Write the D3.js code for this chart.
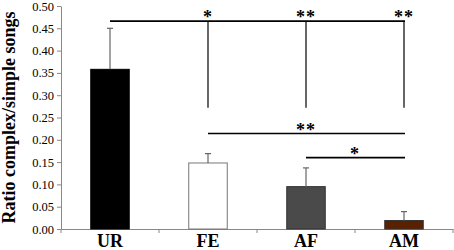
<!DOCTYPE html>
<html><head><meta charset="utf-8">
<script src="https://cdn.jsdelivr.net/npm/d3@7/dist/d3.min.js"></script>
<style>body{margin:0;background:#fff}svg{display:block}</style>
</head><body>
<script>
const categories = ["UR","FE","AF","AM"];
const means = [0.358, 0.148, 0.095, 0.019];
const errors = [0.092, 0.021, 0.042, 0.020];
const yTicks = [0,0.05,0.10,0.15,0.20,0.25,0.30,0.35,0.40,0.45,0.50];
const fills = ["#000000","#ffffff","#4a4a4a","#5a2000"];
const strokes = ["#000000","#777777","#333333","#333333"];
const brackets = [
  {from:0, to:[1,2,3], y:0.466, bottom:0.272, labels:["*","**","**"]},
  {from:1, to:[3], y:0.214, labels:["**"]},
  {from:2, to:[3], y:0.16, labels:["*"]}
];

const W=454,H=250;
const FONT="'Liberation Serif','Times New Roman',Times,serif";
const svg=d3.select("body").append("svg").attr("width",W).attr("height",H);
const m={l:61,r:1,t:6,b:21};
const x=d3.scaleBand().domain(categories).range([m.l,W-m.r]).paddingInner(0).paddingOuter(0);
const y=d3.scaleLinear().domain([0,0.5]).range([H-m.b,m.t]);
const bw=38.5;
const cx=d=>x(d)+x.bandwidth()/2;

const ya=svg.append("g").attr("transform",`translate(${m.l},0)`)
  .call(d3.axisLeft(y).tickValues(yTicks).tickFormat(d3.format(".2f")).tickSize(4).tickSizeOuter(0));
ya.attr("font-family",FONT);
ya.select(".domain").attr("stroke","#888");
ya.selectAll(".tick line").attr("stroke","#888");
ya.selectAll("text").style("font-family",FONT).attr("font-size",12.5).attr("fill","#000");

const xa=svg.append("g").attr("transform",`translate(0,${y(0)})`)
  .call(d3.axisBottom(x).tickSize(0).tickSizeOuter(0));
xa.attr("font-family",FONT);
xa.select(".domain").attr("stroke","#888");
xa.selectAll("text").style("font-family",FONT).attr("font-size",18).attr("font-weight","bold").attr("fill","#000").attr("dy",null).attr("y",18);
const bounds=[m.l].concat(categories.map(c=>x(c)+x.bandwidth()));
svg.append("g").selectAll("line").data(bounds).join("line")
  .attr("x1",d=>d).attr("x2",d=>d).attr("y1",y(0)).attr("y2",y(0)+4).attr("stroke","#888");

svg.append("g").selectAll("rect").data(categories).join("rect")
  .attr("x",d=>cx(d)-bw/2).attr("width",bw)
  .attr("y",(d,i)=>y(means[i])).attr("height",(d,i)=>y(0)-y(means[i]))
  .attr("fill",(d,i)=>fills[i]).attr("stroke",(d,i)=>strokes[i]).attr("stroke-width",1);

const eg=svg.append("g").attr("stroke","#666").attr("stroke-width",1.2);
categories.forEach((c,i)=>{
  eg.append("line").attr("x1",cx(c)).attr("x2",cx(c)).attr("y1",y(means[i])).attr("y2",y(means[i]+errors[i]));
  eg.append("line").attr("x1",cx(c)-3).attr("x2",cx(c)+3).attr("y1",y(means[i]+errors[i])).attr("y2",y(means[i]+errors[i]));
});

const bg=svg.append("g");
brackets.forEach(b=>{
  const last=b.to[b.to.length-1];
  bg.append("line").attr("x1",cx(categories[b.from])).attr("x2",cx(categories[last])+1)
    .attr("y1",y(b.y)).attr("y2",y(b.y)).attr("stroke","#000").attr("stroke-width",1.6);
  b.to.forEach((t,k)=>{
    if(b.bottom!==undefined){
      bg.append("line").attr("x1",cx(categories[t])).attr("x2",cx(categories[t]))
        .attr("y1",y(b.y)).attr("y2",y(b.bottom)).attr("stroke","#000").attr("stroke-width",1.2);
    }
    const lx = b.bottom!==undefined ? cx(categories[t])
      : (b.to.length===1 && b.from+2===t ? cx(categories[b.from+1]) : (cx(categories[b.from])+cx(categories[t]))/2);
    bg.append("text").attr("x",lx).attr("y",y(b.y)+2).attr("text-anchor","middle")
      .style("font-family",FONT).attr("font-weight","bold").attr("font-size",18)
      .attr("letter-spacing",1).text(b.labels[k]);
  });
});

svg.append("text").attr("transform",`translate(15,${(y(0)+y(0.5))/2}) rotate(-90)`)
  .attr("text-anchor","middle").style("font-family",FONT).attr("font-weight","bold")
  .attr("font-size",18).text("Ratio complex/simple songs");
</script>
</body></html>
